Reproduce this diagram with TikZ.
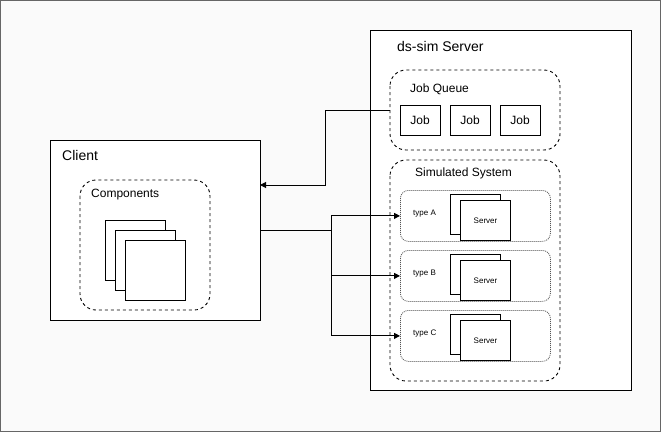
\documentclass[tikz,border=0pt]{standalone}
\usepackage{fontspec}
\setmainfont{Liberation Sans}
\usetikzlibrary{arrows.meta}
\definecolor{pagebg}{HTML}{FAFAFA}
\definecolor{frame}{HTML}{666666}
\definecolor{dotgray}{HTML}{555555}
\tikzset{
  box/.style={draw=black, fill=white, line width=1pt},
  group/.style={draw=black, fill=white, line width=0.9pt, dashed, dash pattern=on 3pt off 3pt, rounded corners=16pt},
  typebox/.style={draw=dotgray, fill=white, line width=0.8pt, dash pattern=on 1pt off 1pt, rounded corners=8pt},
  lbl/.style={anchor=west, inner sep=0pt},
  big/.style={font=\fontsize{14}{16}\selectfont},
  mid/.style={font=\fontsize{12}{14}\selectfont},
  small/.style={font=\fontsize{8}{10}\selectfont},
  link/.style={line width=1pt, -{Triangle[length=6pt,width=6pt]}},
  wire/.style={line width=1pt}
}
\begin{document}
\begin{tikzpicture}[x=1pt,y=-1pt]
% canvas
\fill[pagebg] (0,0) rectangle (661,432);
\draw[frame, line width=1.2pt] (0.6,0.6) rectangle (660.4,431.4);
\useasboundingbox (0,0) rectangle (661,432);

% server side
\draw[box] (370,30) rectangle (631,390);
\node[lbl, big] (srvtitle) at (397,46) {ds-sim Server};

\draw[group] (390,70) rectangle (560,150);
\node[lbl, mid] (jqtitle) at (410,89) {Job Queue};
\coordinate (jqwest) at (390,110);
\node[box, minimum width=40pt, minimum height=30pt, mid] (job1) at (420,120) {Job};
\node[box, minimum width=40pt, minimum height=30pt, mid] (job2) at (470,120) {Job};
\node[box, minimum width=40pt, minimum height=30pt, mid] (job3) at (520,120) {Job};

\draw[group] (390,160) rectangle (560,381);
\node[lbl, mid] (simtitle) at (415,173) {Simulated System};

% server type groups
\foreach \nm/\lab/\y in {ta/type A/190, tb/type B/250, tc/type C/310}{
  \node[typebox, minimum width=150pt, minimum height=51pt, anchor=north west] (\nm) at (400,\y) {};
  \node[lbl, small] at (413,\y+24) {\lab};
  \draw[box] (450,\y+4) rectangle (500,\y+44);
  \node[box, minimum width=50pt, minimum height=40pt, anchor=north west, small] at (460,\y+10) {Server};
}

% client side
\node[box, minimum width=210pt, minimum height=180pt, anchor=north west] (client) at (50,140) {};
\node[lbl, big] (clienttitle) at (62,155) {Client};
\draw[group] (80,180) rectangle (210,310);
\node[lbl, mid] (comptitle) at (91,195) {Components};
\draw[box] (105,220) rectangle (165,280);
\draw[box] (115,230) rectangle (175,290);
\draw[box] (125,240) rectangle (185,300);

% connectors
\coordinate (cin) at (260,185);
\coordinate (cout) at (260,230);
\draw[link] (jqwest) -- (325,110) -- (325,185) -- (cin);
\draw[wire] (cout) -- (331,230);
\draw[link] (331,230) |- (ta.west);
\draw[link] (331,230) |- (tb.west);
\draw[link] (331,230) |- (tc.west);
\end{tikzpicture}
\end{document}
